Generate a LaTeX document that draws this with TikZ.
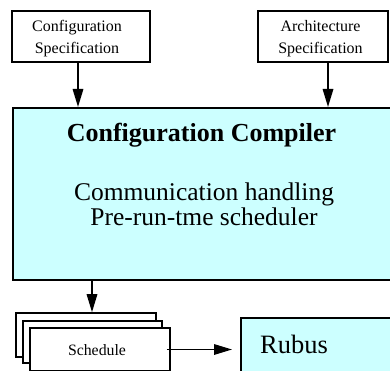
\documentclass[tikz,border=0pt]{standalone}
\usepackage{fontspec}
\setmainfont{Liberation Serif}
\usetikzlibrary{arrows.meta}
\definecolor{paleCyan}{RGB}{204,255,255}
\begin{document}
\begin{tikzpicture}[x=1pt,y=-1pt,
  box/.style={draw, line width=1.6pt, inner sep=0pt},
  paper/.style={box, fill=white, minimum width=140pt, minimum height=44pt},
  flow/.style={-{Triangle[length=18pt,width=10.5pt]}, line width=1.6pt},
  spec/.style={box, minimum height=51pt},
  label/.style={anchor=base, align=center, font=\fontsize{16}{22}\selectfont},
  big/.style={font=\fontsize{25.5}{22}\selectfont, anchor=base}]
\useasboundingbox (0,0) rectangle (390,371);
\clip (0,0) rectangle (390,371);

% input specifications
\node[spec, minimum width=138pt] (cfgspec) at (81,36.5) {};
\node[label] (cfgtxt) at (77,54) {Configuration\\Specification};
\node[spec, minimum width=130pt] (archspec) at (323,36.5) {};
\node[label] (archtxt) at (320.5,54) {Architecture\\Specification};

% compiler block
\node[box, fill=paleCyan, minimum width=400pt, minimum height=172pt, anchor=north west] (compiler) at (12,107) {};
\node[anchor=base, font=\fontsize{26}{26}\bfseries] (ctitle) at (201.5,142) {Configuration Compiler};
\node[big, align=center] (tasks) at (204,225) {Communication handling\\Pre-run-tme scheduler};

% stack of schedules
\node[paper] (sched3) at (86,335) {};
\node[paper, minimum width=139pt, minimum height=42pt] (sched2) at (92.5,342) {};
\node[paper, minimum height=43pt] (sched1) at (100,349.5) {};
\node[anchor=base, font=\fontsize{15.8}{18}\selectfont] (schedtxt) at (97,355) {Schedule};

% run-time system
\node[box, fill=paleCyan, minimum width=200pt, minimum height=100pt, anchor=north west] (rubus) at (240,317) {};
\node[anchor=base west, inner sep=0pt, font=\fontsize{26.5}{26}\selectfont] (rubustxt) at (260,353) {Rubus};

% connectors
\draw[flow] ([xshift=-3pt]cfgspec.south) -- ([xshift=-3pt]cfgspec.south |- compiler.north);
\draw[flow] ([xshift=5pt]archspec.south) -- ([xshift=5pt]archspec.south |- compiler.north);
\draw[flow] ([xshift=6pt]sched3.north |- compiler.south) -- ([xshift=6pt]sched3.north);
\draw[flow, shorten >=8pt] ([xshift=-4pt]sched1.east) -- (sched1.east -| rubus.west);
\end{tikzpicture}
\end{document}
